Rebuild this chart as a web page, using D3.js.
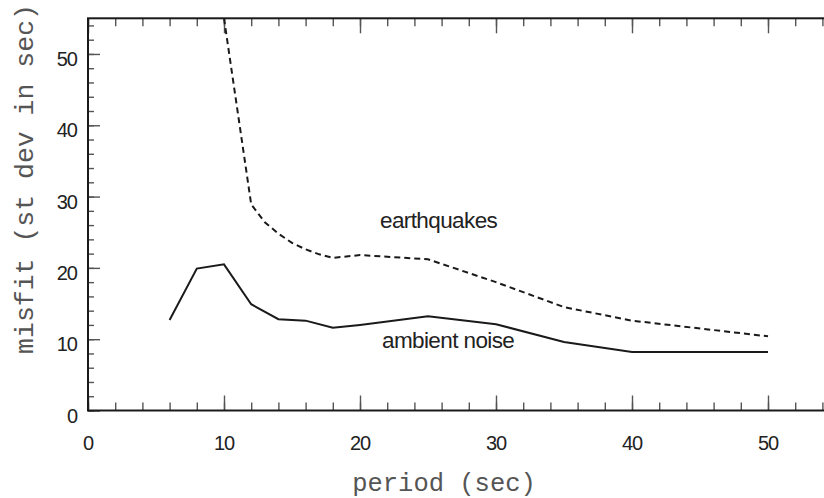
<!DOCTYPE html>
<html>
<head>
<meta charset="utf-8">
<script src="https://cdn.jsdelivr.net/npm/d3@7"></script>
<style>
  body { margin: 0; background: #fff; }
  svg { display: block; }
</style>
</head>
<body>
<svg class="Chart"></svg>
<script>
// period (sec) and misfit values
var periods = [6, 8, 10, 12, 14, 16, 18, 20, 25, 30, 35, 40, 50];
var ambientNoise = [12.7, 19.9, 20.5, 14.9, 12.8, 12.6, 11.6, 12.0, 13.2, 12.1, 9.6, 8.2, 8.2];
var quakePeriods = [10, 12, 13, 14, 15, 16, 17, 18, 20, 25, 30, 35, 40, 50];
var earthquakes = [55, 28.9, 26.4, 24.8, 23.5, 22.6, 21.9, 21.4, 21.8, 21.2, 18.0, 14.5, 12.6, 10.4];
var xMajor = [0, 10, 20, 30, 40, 50];
var yMajor = [0, 10, 20, 30, 40, 50];
var xMinor = d3.range(0, 56, 2);
var yMinor = d3.range(0, 56, 2);

let width = 824, height = 498;
let svg = d3.select(".Chart")
    .attr("width", width)
    .attr("height", height);

let x = d3.scaleLinear().domain([0, 55]).range([88, 836]);
let y = d3.scaleLinear().domain([0, 55]).range([410.5, 18.3]);

svg.append("clipPath").attr("id", "plot")
    .append("rect")
    .attr("x", x(0)).attr("y", y(55))
    .attr("width", x(55) - x(0)).attr("height", y(0) - y(55));

// ticks, all pointing inward
function ticks(axis, vals, size, tx, ty){
    let g = svg.append("g")
        .attr("transform", "translate(" + tx + "," + ty + ")")
        .call(axis.tickValues(vals).tickSize(size).tickFormat(""));
    g.select(".domain").remove();
    g.selectAll(".tick line").attr("stroke", "#555").attr("stroke-width", 1.4);
}
ticks(d3.axisTop(x), xMinor, 8, 0, y(0));
ticks(d3.axisTop(x), xMajor, 15, 0, y(0));
ticks(d3.axisBottom(x), xMinor, 8, 0, y(55));
ticks(d3.axisBottom(x), xMajor, 15, 0, y(55));
ticks(d3.axisRight(y), yMinor, 6, x(0), 0);
ticks(d3.axisRight(y), yMajor, 12, x(0), 0);
ticks(d3.axisLeft(y), yMajor, 12, x(55), 0);

// frame
svg.append("rect")
    .attr("x", x(0)).attr("y", y(55))
    .attr("width", x(55) - x(0)).attr("height", y(0) - y(55))
    .attr("fill", "none")
    .attr("stroke", "#1a1a1a")
    .attr("stroke-width", 2);

// tick labels
svg.append("g").selectAll("text")
    .data(xMajor)
    .join("text")
    .attr("x", d => x(d))
    .attr("y", 450)
    .attr("text-anchor", "middle")
    .style("font", "20px 'Liberation Sans', Arial, sans-serif")
    .style("letter-spacing", "-1px")
    .attr("fill", "#222")
    .text(d => d);

svg.append("g").selectAll("text")
    .data(yMajor)
    .join("text")
    .attr("x", 77)
    .attr("y", d => y(d) + 12)
    .attr("text-anchor", "end")
    .style("font", "20px 'Liberation Sans', Arial, sans-serif")
    .style("letter-spacing", "-1px")
    .attr("fill", "#222")
    .text(d => d);

// axis titles
svg.append("text")
    .attr("x", 444)
    .attr("y", 491)
    .attr("text-anchor", "middle")
    .style("font", "25.5px 'Liberation Mono', 'Courier New', monospace")
    .attr("fill", "#555")
    .text("period (sec)");

svg.append("text")
    .attr("transform", "translate(33,179)rotate(-90)")
    .attr("text-anchor", "middle")
    .style("font", "26.5px 'Liberation Mono', 'Courier New', monospace")
    .attr("fill", "#555")
    .text("misfit (st dev in sec)");

// series
let plot = svg.append("g").attr("clip-path", "url(#plot)");
let line = d3.line().x(d => x(d[0])).y(d => y(d[1]));

plot.append("path")
    .datum(d3.zip(quakePeriods, earthquakes))
    .attr("d", line)
    .attr("fill", "none")
    .attr("stroke", "#1a1a1a")
    .attr("stroke-width", 2)
    .attr("stroke-dasharray", "6,4");

plot.append("path")
    .datum(d3.zip(periods, ambientNoise))
    .attr("d", line)
    .attr("fill", "none")
    .attr("stroke", "#1a1a1a")
    .attr("stroke-width", 2);

// labels
svg.append("text")
    .attr("x", 380).attr("y", 228)
    .style("font", "22.5px 'Liberation Sans', Arial, sans-serif")
    .style("letter-spacing", "-0.6px")
    .attr("fill", "#222")
    .text("earthquakes");

svg.append("text")
    .attr("x", 382).attr("y", 348)
    .style("font", "22.5px 'Liberation Sans', Arial, sans-serif")
    .style("letter-spacing", "-0.6px")
    .attr("fill", "#222")
    .text("ambient noise");
</script>
</body>
</html>
